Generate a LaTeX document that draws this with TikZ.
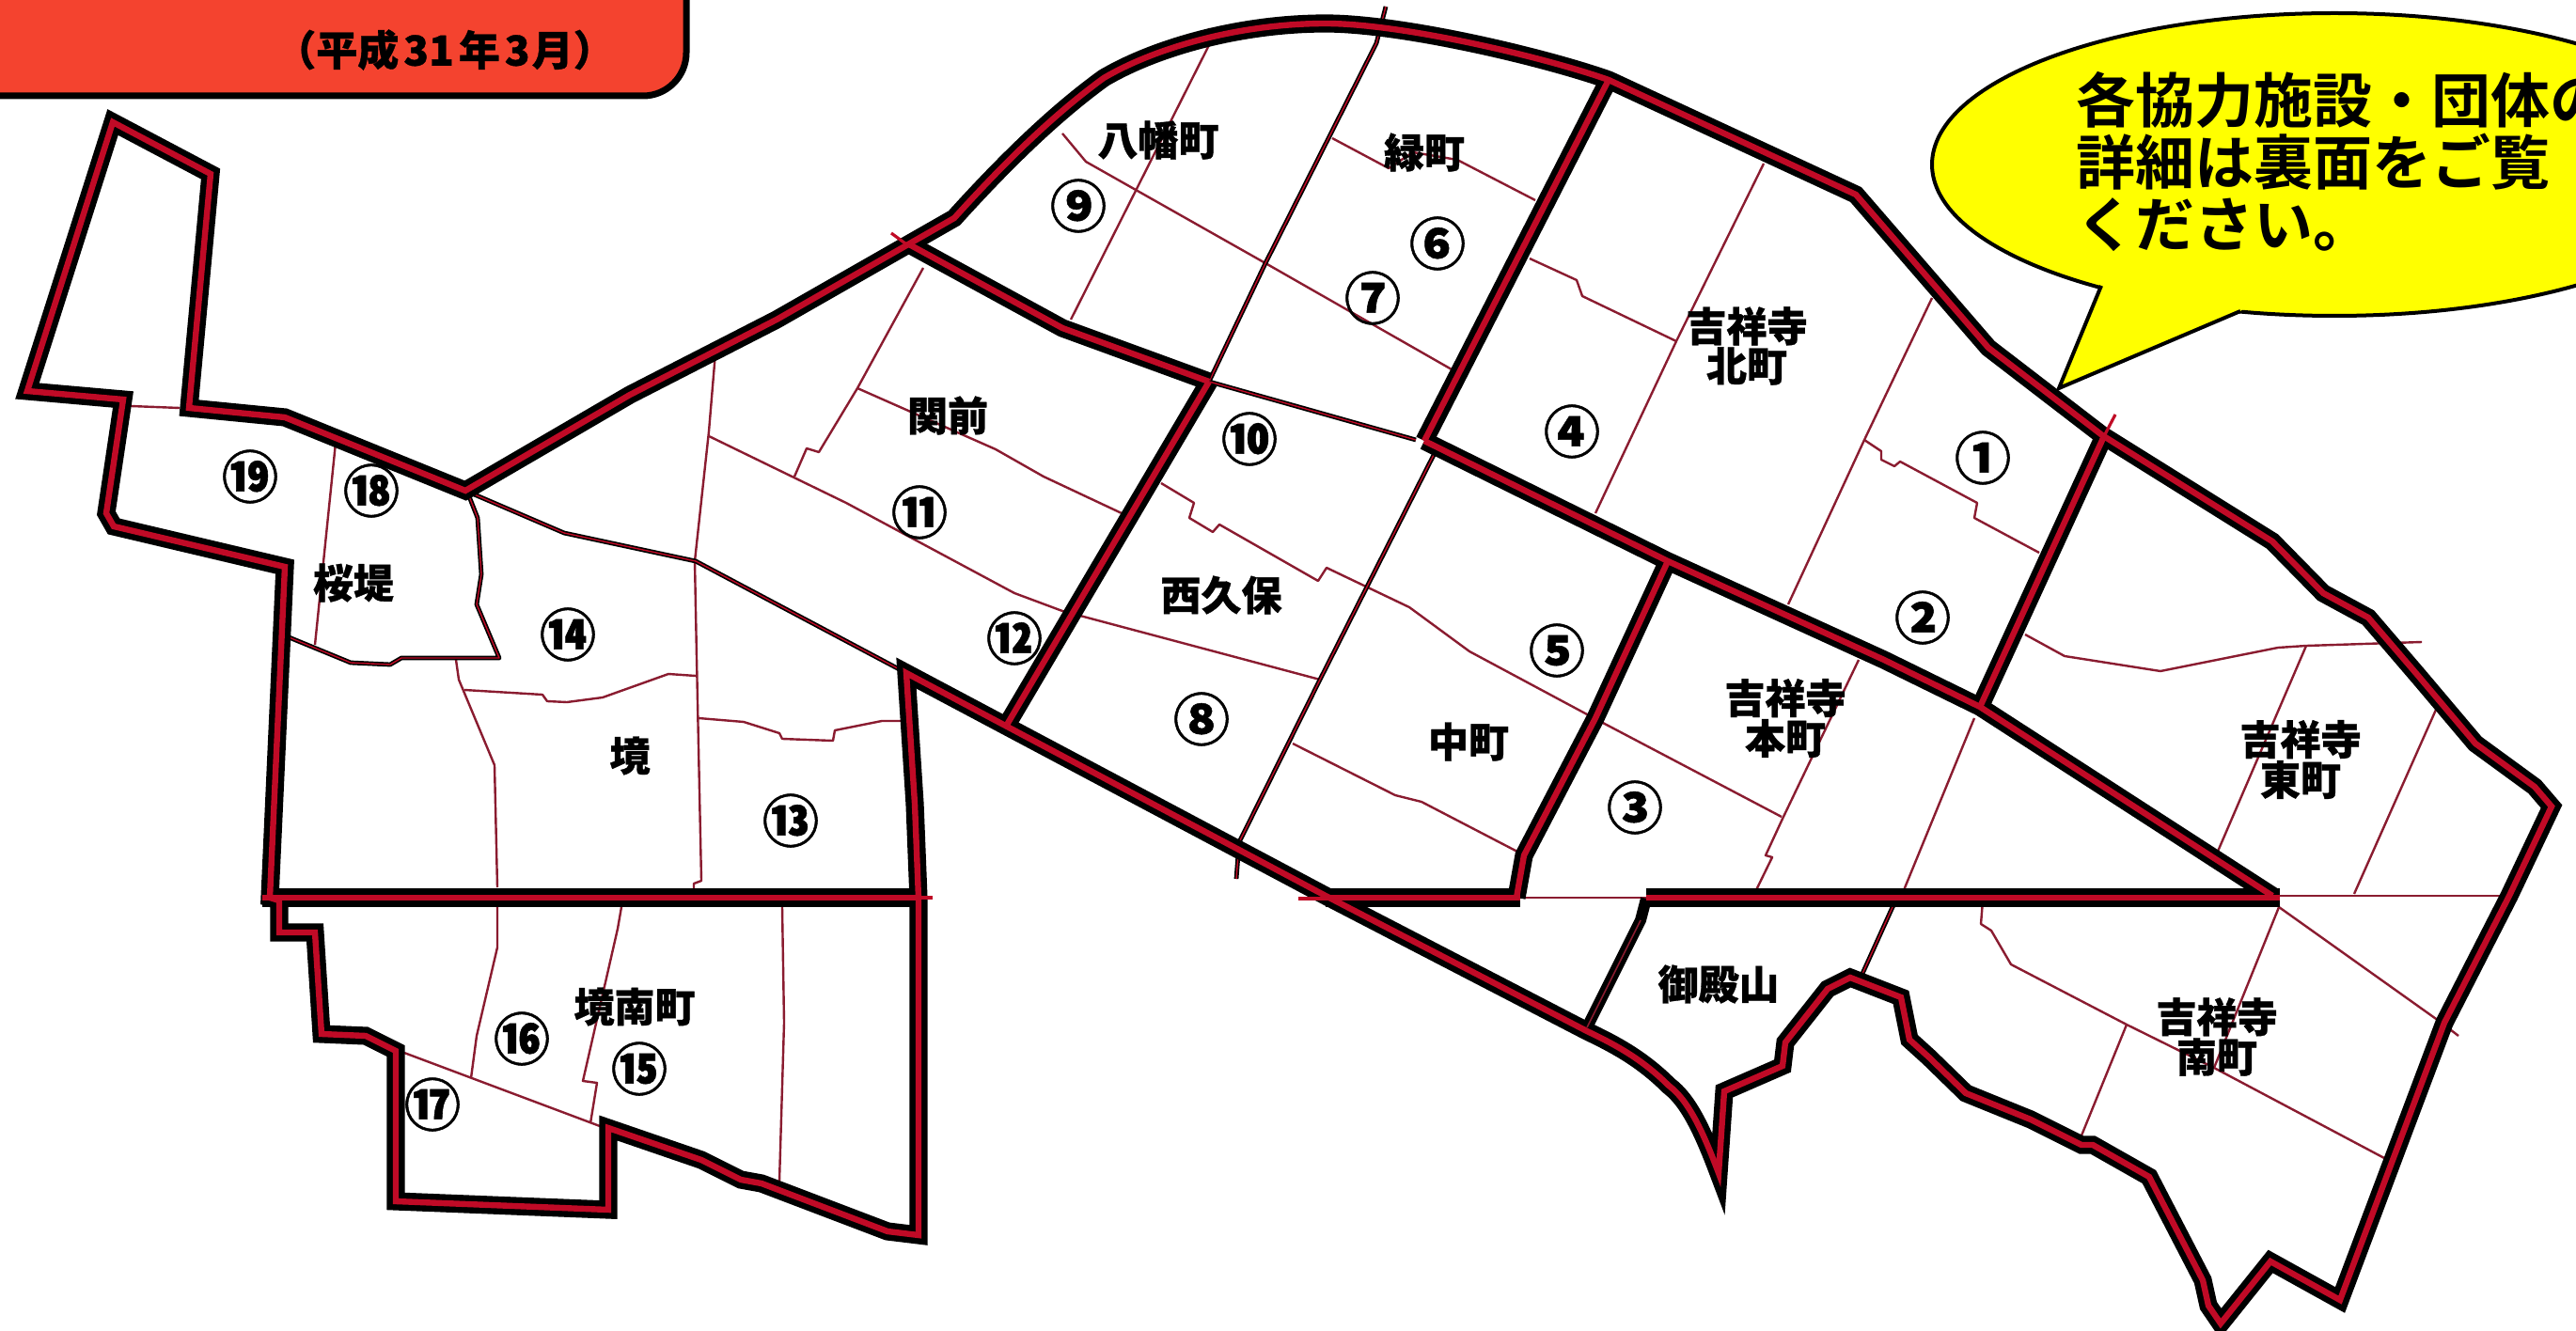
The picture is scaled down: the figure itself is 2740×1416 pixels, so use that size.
\documentclass[tikz,border=0pt]{standalone}
\usepackage{fontspec}
\newfontfamily\jp[BoldFont={Noto Sans CJK JP Bold}]{Noto Sans CJK JP}
\newfontfamily\jpk[FakeBold=0.8]{Noto Sans CJK JP Black}
\newfontfamily\jpn[FakeBold=0.9]{Noto Sans CJK JP Black}
\definecolor{mapred}{HTML}{C00A26}
\definecolor{thinred}{HTML}{8A1C30}
\definecolor{banner}{HTML}{F4432F}
\definecolor{callyellow}{HTML}{FFFF00}
\tikzset{
 bk/.style={draw=black,line width=9.6pt,miter limit=12,line join=miter},
 rd/.style={draw=mapred,line width=3.2pt,miter limit=12,line join=miter},
 thinln/.style={draw=thinred,line width=1.2pt,line join=round},
 medln/.style={draw=black,line width=2.4pt,line join=round},
 medrd/.style={draw=mapred,line width=.7pt,line join=round},
 place/.style={font=\jpk\fontsize{21.5pt}{19.5pt}\selectfont,align=center,inner sep=0pt,text=black},
 num/.style={font=\jpn\fontsize{30pt}{30pt}\selectfont,inner sep=0pt,text=black},
 call/.style={font=\jp\bfseries\fontsize{31.5pt}{31.5pt}\selectfont,inner sep=0pt,anchor=west,text=black},
}
% outer boundary and heavy ward lines
\def\pOuter{(120,130) -- (224,185) -- (201,434) -- (303,444) -- (495,522) -- (670,420) -- (826,340) -- (966,260) -- (1015,232) .. controls (1080,160) and (1130,115) .. (1174,83) .. controls (1230,50) and (1320,25) .. (1410,25) .. controls (1490,25) and (1640,60) .. (1711,85) -- (1974,207) -- (2115,370) -- (2236,463) -- (2417,576) -- (2471,631) -- (2519,657) -- (2573,720) -- (2633,791) -- (2696,837) -- (2714,858) -- (2669,953) -- (2600,1088) -- (2489,1383) -- (2415,1342) -- (2362,1408) -- (2349,1389) -- (2343,1362) -- (2286,1252) -- (2226,1218) -- (2214,1218) -- (2160,1191) -- (2091,1163) -- (2052,1125) -- (2031,1106) -- (2022,1061) -- (1968,1040) -- (1944,1052) -- (1899,1109) -- (1896,1134) -- (1834,1161) -- (1828,1248) .. controls (1810,1200) and (1795,1170) .. (1775,1155) .. controls (1745,1125) and (1715,1110) .. (1688,1097) -- (1410,953) -- (964,716) -- (973,855) -- (977,956) -- (977,1314) -- (944,1310) -- (810,1259) -- (788,1255) -- (746,1234) -- (647,1200) -- (647,1287) -- (421,1278) -- (421,1118) -- (389,1102) -- (342,1100) -- (335,992) -- (297,992) -- (297,958) -- (287,955) -- (303,603) -- (121,560) -- (113,546) -- (131,425) -- (29,416) -- cycle}
\def\pNorth{(967,260) -- (1130,349) -- (1286,406)}
\def\pNorthB{(1515,469) -- (1774,597) -- (2004,702) -- (2106,752) -- (2417,953)}
\def\pHorzA{(279,955) -- (979,955)}
\def\pHorzB{(1410,955) -- (1617,955)}
\def\pHorzC{(1751,955) -- (2425,955)}
\def\pVa{(1711,85) -- (1515,469)}
\def\pVb{(1286,406) -- (1071,771)}
\def\pVc{(1774,597) -- (1697,764) -- (1621,910) -- (1613,955)}
\def\pVd{(2238,464) -- (2106,752)}
\def\allheavy#1{%
 \draw[#1] \pOuter; \draw[#1] \pNorth; \draw[#1] \pNorthB; \draw[#1] \pHorzA;
 \draw[#1] \pHorzB; \draw[#1] \pHorzC; \draw[#1] \pVa; \draw[#1] \pVb;
 \draw[#1] \pVc; \draw[#1] \pVd;}
\begin{document}
\begin{tikzpicture}[x=.5pt,y=-.5pt]
\useasboundingbox (0,0) rectangle (2740,1416);
\clip (0,0) rectangle (2740,1416);
\fill[white] (0,0) rectangle (2740,1416);

% thin town lines
\draw[thinln] (139,432) -- (191,434);
\draw[thinln] (357,471) -- (335,686);
\draw[thinln] (762,363) -- (754,459) -- (739,597) -- (741,700) -- (746,937) -- (738,940) -- (738,953);
\draw[thinln] (982,285) -- (912,413) -- (871,481) -- (858,477) -- (845,507);
\draw[thinln] (912,413) -- (1059,478) -- (1110,507) -- (1193,546);
\draw[thinln] (754,464) -- (900,535) -- (1079,631) -- (1130,650) -- (1404,723);
\draw[thinln] (1286,30) -- (1286,48) -- (1139,340);
\draw[thinln] (1130,142) -- (1155,172) -- (1346,280) -- (1544,393);
\draw[thinln] (1417,147) -- (1477,179) -- (1503,162) -- (1550,170) -- (1633,213);
\draw[thinln] (1627,275) -- (1677,298) -- (1683,315) -- (1783,363);
\draw[thinln] (1876,174) -- (1783,363) -- (1697,546);
\draw[thinln] (1235,514) -- (1270,535) -- (1265,551) -- (1290,566) -- (1297,558) -- (1402,618) -- (1411,604) -- (1499,646) -- (1563,693) -- (1703,768) -- (1895,869);
\draw[thinln] (1375,791) -- (1484,846) -- (1512,853) -- (1614,906);
\draw[thinln] (2055,317) -- (1983,468) -- (1902,643);
\draw[thinln] (1983,468) -- (2001,480) -- (2001,489) -- (2015,496) -- (2021,491) -- (2103,535) -- (2100,551) -- (2169,588);
\draw[thinln] (1977,702) -- (1896,871) -- (1878,910) -- (1885,912) -- (1866,951);
\draw[thinln] (2100,764) -- (2025,947);
\draw[thinln] (2154,675) -- (2196,698) -- (2298,714) -- (2423,689) -- (2453,687) -- (2576,683);
\draw[thinln] (2453,687) -- (2358,908);
\draw[thinln] (2591,755) -- (2504,951);
\draw[thinln] (2424,965) -- (2594,1086) -- (2615,1102);
\draw[thinln] (2424,965) -- (2355,1136);
\draw[thinln] (2109,958) -- (2107,983) -- (2118,990) -- (2139,1026) -- (2262,1090) -- (2355,1136) -- (2536,1232);
\draw[thinln] (2262,1090) -- (2214,1208);
\draw[thinln] (485,702) -- (488,723) -- (526,814) -- (529,944);
\draw[thinln] (494,734) -- (577,739) -- (582,746) -- (603,747) -- (641,742) -- (711,717) -- (740,719);
\draw[thinln] (743,764) -- (791,768) -- (829,780) -- (832,786) -- (886,788) -- (888,777) -- (938,767) -- (960,767);
\draw[thinln] (529,965) -- (529,1008) -- (507,1102) -- (501,1147);
\draw[thinln] (661,965) -- (657,988) -- (620,1150) -- (635,1152) -- (628,1195);
\draw[thinln] (832,965) -- (834,1088) -- (829,1257);
\draw[thinln] (430,1120) -- (638,1198);
\draw[thinln] (2420,953) -- (2678,953);
\draw[thinln] (1617,955) -- (1751,955);

% medium lines
\foreach \pth in {0,1} {
 \ifnum\pth=0 \tikzset{cur/.style={medln}}\else \tikzset{cur/.style={medrd}}\fi
 \draw[cur] (497,523) -- (508,551) -- (512,611) -- (507,643) -- (531,700) -- (427,700) -- (415,707) -- (373,705) -- (300,675);
 \draw[cur] (495,522) -- (600,567) -- (740,597) -- (964,716);
 \draw[cur] (1474,7) -- (1464,46) -- (1346,280) -- (1286,406);
 \draw[cur] (1286,406) -- (1506,468);
 \draw[cur] (1528,478) -- (1404,723) -- (1318,896) -- (1315,935);
 \draw[cur] (2025,947) -- (2013,965) -- (1980,1038);
}

% heavy lines
\allheavy{bk}
\draw[draw=black,line width=6pt] (1751,956) -- (1745,979) -- (1688,1093);
\draw[thinln,line width=.8pt] (1745,979) -- (1688,1093);
\allheavy{rd}
\draw[draw=mapred,line width=2pt] (1381,956) -- (1420,956);
\draw[draw=mapred,line width=1.6pt] (975,955) -- (992,955);
\draw[draw=mapred,line width=1.6pt] (948,248) -- (967,262);
\draw[draw=mapred,line width=1.6pt] (2250,441) -- (2238,464);

% banner
\path[fill=banner] (-100,-100) -- (730,-100) [rounded corners=23pt] -- (730,102) -- (-100,102) [sharp corners] -- cycle;
\draw[line width=3.5pt,rounded corners=23pt] (730,-100) -- (730,102) -- (-100,102);
\node[inner sep=0pt,text=black,font=\jpk\fontsize{22pt}{20pt}\selectfont] (year) at (473,53) {（平成\hspace{2.5pt}31\hspace{2.5pt}年\hspace{2.5pt}3\hspace{1pt}月）};

% callout
\draw[line width=2pt,fill=callyellow] (2483,175) ellipse [x radius=428,y radius=161];
\fill[callyellow] (2235,304) -- (2190,413) -- (2383,331) -- (2420,300) -- cycle;
\coordinate (tailA) at (2235,304);
\coordinate (tailTip) at (2190,413);
\coordinate (tailB) at (2383,331);
\draw[line width=2pt,line join=miter] (tailA) -- (tailTip) -- (tailB);
\node[call] (c1) at (2208,106) {各協力施設・団体の};
\node[call] (c2) at (2208,172) {詳細は裏面をご覧};
\node[call] (c3) at (2208,239) {ください。};

% places
\node[place] (n1) at (1232,149) {八幡町};
\node[place] (n2) at (1515,162) {緑町};
\node[place] (n3) at (1858,368) {吉祥寺\\北町};
\node[place] (n4) at (1008,442) {関前};
\node[place] (n5) at (1299,633) {西久保};
\node[place] (n6) at (376,620) {桜堤};
\node[place] (n7) at (670,804) {境};
\node[place] (n8) at (675,1071) {境南町};
\node[place] (n9) at (1828,1047) {御殿山};
\node[place] (n10) at (1562,789) {中町};
\node[place] (n11) at (1899,764) {吉祥寺\\本町};
\node[place] (n12) at (2447,808) {吉祥寺\\東町};
\node[place] (n13) at (2358,1103) {吉祥寺\\南町};

% numbers
\node[num] (m1) at (2109,487) {①};
\node[num] (m2) at (2045,657) {②};
\node[num] (m3) at (1739,859) {③};
\node[num] (m4) at (1672,459) {④};
\node[num] (m5) at (1656,692) {⑤};
\node[num] (m6) at (1529,259) {⑥};
\node[num] (m7) at (1460,317) {⑦};
\node[num] (m8) at (1278,765) {⑧};
\node[num] (m9) at (1147,219) {⑨};
\node[num] (m10) at (1329,467) {⑩};
\node[num] (m11) at (978,545) {⑪};
\node[num] (m12) at (1079,679) {⑫};
\node[num] (m13) at (841,873) {⑬};
\node[num] (m14) at (604,675) {⑭};
\node[num] (m15) at (680,1137) {⑮};
\node[num] (m16) at (555,1105) {⑯};
\node[num] (m17) at (460,1175) {⑰};
\node[num] (m18) at (395,522) {⑱};
\node[num] (m19) at (266,507) {⑲};
\end{tikzpicture}
\end{document}
